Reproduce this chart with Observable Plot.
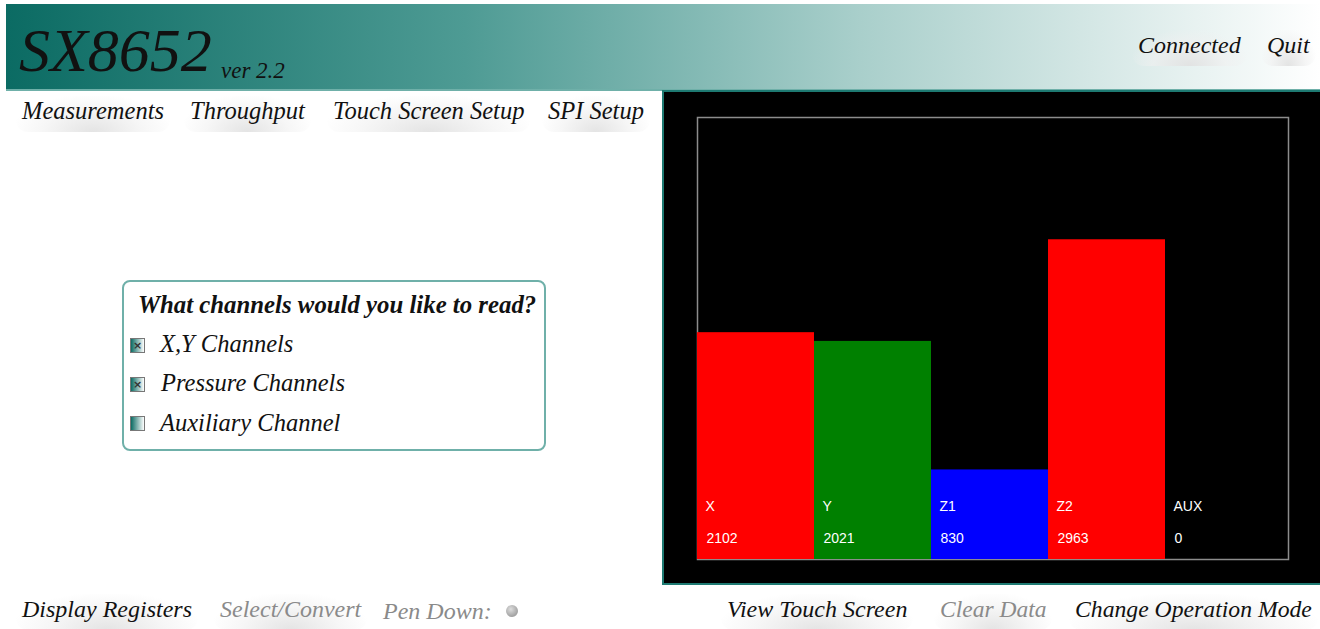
<!DOCTYPE html>
<html>
<head>
<meta charset="utf-8">
<script src="https://cdn.jsdelivr.net/npm/d3@7"></script>
<script src="https://cdn.jsdelivr.net/npm/@observablehq/plot@0.6"></script>
<style>
  html, body { margin: 0; padding: 0; background: #fff; }
  body { width: 1320px; height: 629px; position: relative; overflow: hidden; }
  .script { font-family: "Liberation Serif", serif; font-style: italic; color: #111; position: absolute; white-space: nowrap; }
  .btn { padding: 0 6px 6px 6px; border-radius: 12px;
         background: radial-gradient(ellipse at 50% 100%, rgba(225,225,225,0.9) 0%, rgba(240,240,240,0.6) 45%, rgba(255,255,255,0) 75%); }
  .gray { color: #8a8a8a; }
  #header { position: absolute; left: 6px; top: 4px; width: 1314px; height: 85px;
            background: linear-gradient(to right, #0b6b63 0%, #4e9b94 35%, #a9cfcb 65%, #ffffff 100%);
            border-bottom: 2px solid #6fb0a9; }
  #panel { position: absolute; left: 662px; top: 90px; width: 658px; height: 491px;
           background: #000; border-left: 2px solid #1e7a72; border-top: 2px solid #1e7a72; border-bottom: 2px solid #1e7a72; }
  #panel svg { display: block; }
  #box { position: absolute; left: 122px; top: 280px; width: 420px; height: 167px;
         border: 2px solid #6fb0a9; border-radius: 8px; background: #fff; }
  .cb { position: absolute; width: 15px; height: 15px; border: 1px solid #777;
        background: linear-gradient(to right, #0b6b63, #ffffff); box-sizing: border-box;
        font: bold 11px "DejaVu Sans", sans-serif; color: #333; text-align: center; line-height: 13px; }
  .m { font-size: 24.5px; line-height: 30px; }
</style>
</head>
<body>
<div id="header"></div>
<div class="script" style="left:19px; top:12px; font-size:62px; line-height:76px;">SX8652</div>
<div class="script" style="left:221px; top:57px; font-size:23px; line-height:28px;">ver 2.2</div>
<div class="script btn m" style="left:1132px; top:30px; font-size:24px;">Connected</div>
<div class="script btn m" style="left:1261px; top:30px; font-size:24px;">Quit</div>

<div class="script btn m" style="left:16px; top:96px;">Measurements</div>
<div class="script btn m" style="left:184px; top:96px;">Throughput</div>
<div class="script btn m" style="left:327px; top:96px;">Touch Screen Setup</div>
<div class="script btn m" style="left:542px; top:96px;">SPI Setup</div>

<div id="box"></div>
<div class="script" style="left:138px; top:290px; font-size:24.8px; line-height:30px; font-weight:bold;">What channels would you like to read?</div>
<div class="cb" style="left:130px; top:338px;">×</div>
<div class="script m" style="left:160px; top:329px;">X,Y Channels</div>
<div class="cb" style="left:130px; top:377px;">×</div>
<div class="script m" style="left:161px; top:368px;">Pressure Channels</div>
<div class="cb" style="left:130px; top:416px;"></div>
<div class="script m" style="left:160px; top:408px;">Auxiliary Channel</div>

<div id="panel"></div>

<div class="script btn m" style="left:16px; top:594px; font-size:24px;">Display Registers</div>
<div class="script btn gray m" style="left:214px; top:594px; font-size:24px;">Select/Convert</div>
<div class="script gray m" style="left:383px; top:596px; font-size:24px;">Pen Down:</div>
<div style="position:absolute; left:506px; top:605px; width:12px; height:12px; border-radius:50%; background:radial-gradient(circle at 40% 35%, #ddd, #888);"></div>
<div class="script btn m" style="left:721px; top:594px; font-size:24px;">View Touch Screen</div>
<div class="script btn gray m" style="left:934px; top:594px; font-size:23.5px;">Clear Data</div>
<div class="script btn m" style="left:1069px; top:594px; font-size:23.7px;">Change Operation Mode</div>

<script>
// ---- data ----
const channels = ["X", "Y", "Z1", "Z2", "AUX"];
const values = [2102, 2021, 830, 2963, 0];
const barColors = ["#ff0000", "#008000", "#0000ff", "#ff0000", "#000000"];
const fullScale = 4096;

const data = channels.map((c, i) => ({channel: c, value: values[i], color: barColors[i]}));

const W = 656, H = 491;
const mL = 33, mR = 32, mT = 25, mB = 24;
const bandW = 117;

const chart = Plot.plot({
  width: W,
  height: H,
  marginLeft: mL,
  marginRight: mR,
  marginTop: mT,
  marginBottom: mB,
  style: {background: "#000", color: "#fff", fontFamily: "Liberation Sans, sans-serif", fontSize: "14px"},
  x: {domain: channels, range: [mL, mL + bandW * channels.length], padding: 0, axis: null},
  y: {domain: [0, fullScale], axis: null},
  color: {type: "identity"},
  marks: [
    Plot.frame({stroke: "#8c8c8c", strokeWidth: 1.5}),
    Plot.barY(data, {x: "channel", y: "value", fill: "color"}),
    Plot.text(data, {x: "channel", text: "channel", frameAnchor: "bottom", lineAnchor: "middle",
                     textAnchor: "start", dx: -bandW / 2 + 8, dy: -53, fill: "#fff", fontSize: 14}),
    Plot.text(data, {x: "channel", text: d => String(d.value), frameAnchor: "bottom", lineAnchor: "middle",
                     textAnchor: "start", dx: -bandW / 2 + 9, dy: -21, fill: "#fff", fontSize: 14})
  ]
});
document.getElementById("panel").appendChild(chart);
</script>
</body>
</html>
